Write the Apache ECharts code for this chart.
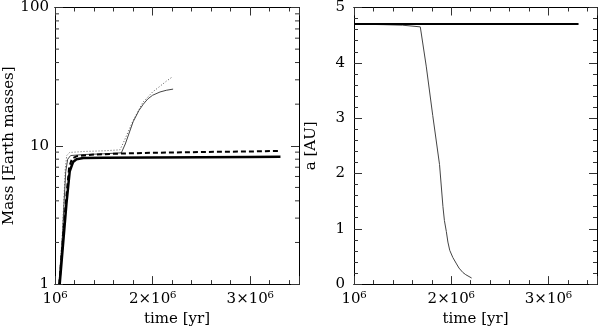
<!DOCTYPE html>
<html>
<head>
<meta charset="utf-8">
<script src="https://cdn.jsdelivr.net/npm/echarts@6/dist/echarts.min.js"></script>
<style>
  html, body { margin: 0; padding: 0; background: #fff; }
  #chart { width: 600px; height: 332px; }
</style>
</head>
<body>
<div id="chart"></div>
<script>
// time in years, mass in Earth masses, a in AU
const tThick = [1.048e6, 1.089e6, 1.117e6, 1.151e6, 1.185e6, 1.22e6, 1.29e6, 1.5e6, 2.0e6, 2.5e6, 3.0e6, 3.31e6]
const mThick = [1, 2.2, 3.8, 6.55, 7.63, 8.0, 8.15, 8.18, 8.22, 8.26, 8.3, 8.32]

const tDashed = [1.045e6, 1.085e6, 1.115e6, 1.145e6, 1.175e6, 1.22e6, 1.4e6, 1.7e6, 2.0e6, 2.5e6, 3.0e6, 3.3e6]
const mDashed = [1, 2.3, 4.2, 7.0, 8.1, 8.4, 8.65, 8.8, 8.9, 9.02, 9.1, 9.18]

const tThin = [1.04e6, 1.076e6, 1.092e6, 1.11e6, 1.13e6, 1.16e6, 1.3e6, 1.5e6, 1.68e6, 1.72e6, 1.8e6, 1.86e6, 1.905e6, 1.95e6, 2.0e6, 2.076e6, 2.14e6, 2.21e6]
const mThin = [1, 2.2, 3.8, 6.5, 8.0, 8.5, 8.65, 8.75, 8.9, 10.3, 14.9, 18, 20, 21.8, 23.2, 24.5, 25.2, 25.7]

const tDotted = [1.04e6, 1.074e6, 1.09e6, 1.105e6, 1.12e6, 1.15e6, 1.3e6, 1.5e6, 1.665e6, 1.7e6, 1.8e6, 1.9e6, 2.0e6, 2.08e6, 2.14e6, 2.2e6]
const mDotted = [1, 2.2, 3.9, 6.8, 8.5, 8.95, 9.1, 9.2, 9.35, 10.5, 15.2, 20.6, 24.5, 27.1, 29.3, 31.4]

const tOrbitFixed = [1.0e6, 2.0e6, 3.31e6]
const aOrbitFixed = [4.7, 4.7, 4.7]

const tOrbitMig = [1.0e6, 1.3e6, 1.5e6, 1.682e6, 1.743e6, 1.81e6, 1.88e6, 1.915e6, 1.93e6, 1.95e6, 1.966e6, 1.985e6, 2.017e6, 2.05e6, 2.08e6, 2.12e6, 2.15e6, 2.21e6]
const aOrbitMig = [4.7, 4.69, 4.68, 4.65, 3.94, 3.05, 2.16, 1.4, 1.15, 0.95, 0.76, 0.61, 0.48, 0.38, 0.29, 0.21, 0.17, 0.11]

const logMinorTicks = [2, 3, 4, 5, 6, 7, 8, 9, 20, 30, 40, 50, 60, 70, 80, 90]

const xMin = 1e6, xMax = 3.5e6
const font = 'DejaVu Serif'
const tickColor = '#333'

const pairs = (xs, ys) => xs.map((x, i) => [x, ys[i]])

function timeLabel(v) {
  if (Math.abs(v / 1e6 - Math.round(v / 1e6)) > 1e-6) return ''
  const k = Math.round(v / 1e6)
  return k === 1 ? '10\u2076' : k + '\u00d710\u2076'
}

// one x axis; several are stacked per grid to get long + short inward ticks
function xAxis(grid, position, interval, len, withLabels) {
  return {
    type: 'value', gridIndex: grid, position: position,
    min: xMin, max: xMax, interval: interval,
    axisLine: { show: true, onZero: false, lineStyle: { color: '#000', width: 1 } },
    axisTick: { show: true, inside: true, length: len, lineStyle: { color: tickColor } },
    axisLabel: withLabels ? { show: true, margin: 8, fontFamily: font, fontSize: 15, color: '#000', formatter: timeLabel } : { show: false },
    splitLine: { show: false },
    name: withLabels ? 'time [yr]' : '',
    nameLocation: 'middle', nameGap: 24,
    nameTextStyle: { fontFamily: font, fontSize: 15, color: '#000' }
  }
}

function linY(grid, position, interval, len, withLabels) {
  return {
    type: 'value', gridIndex: grid, position: position,
    min: 0, max: 5, interval: interval,
    axisLine: { show: true, onZero: false, lineStyle: { color: '#000', width: 1 } },
    axisTick: { show: true, inside: true, length: len, lineStyle: { color: tickColor } },
    axisLabel: withLabels ? { show: true, margin: 9, fontFamily: font, fontSize: 15, color: '#000' } : { show: false },
    splitLine: { show: false },
    name: withLabels ? 'a [AU]' : '',
    nameLocation: 'middle', nameGap: 35,
    nameTextStyle: { fontFamily: font, fontSize: 15, color: '#000' }
  }
}

function logY(position, withLabels) {
  return {
    type: 'log', logBase: 10, gridIndex: 0, position: position,
    min: 1, max: 100,
    axisLine: { show: true, onZero: false, lineStyle: { color: '#000', width: 1 } },
    axisTick: { show: true, inside: true, length: 8, lineStyle: { color: tickColor } },
    axisLabel: withLabels ? { show: true, margin: 6, fontFamily: font, fontSize: 15, color: '#000' } : { show: false },
    splitLine: { show: false },
    name: withLabels ? 'Mass [Earth masses]' : '',
    nameLocation: 'middle', nameGap: 35,
    nameTextStyle: { fontFamily: font, fontSize: 15, color: '#000' }
  }
}

function line(name, data, xi, yi, color, width, type) {
  return {
    name: name, type: 'line', data: data, xAxisIndex: xi, yAxisIndex: yi,
    showSymbol: false, symbol: 'none', smooth: false,
    lineStyle: { color: color, width: width, type: type || 'solid' }
  }
}

const myChart = echarts.init(document.getElementById('chart'), null, { renderer: 'canvas' })
myChart.setOption({
  animation: false,
  backgroundColor: '#fff',
  grid: [
    { left: 55, right: 301, top: 7, bottom: 44 },
    { left: 354, right: 1, top: 7, bottom: 44 }
  ],
  xAxis: [
    xAxis(0, 'bottom', 2e5, 4, false),
    xAxis(0, 'bottom', 1e6, 8, true),
    xAxis(0, 'top', 2e5, 4, false),
    xAxis(0, 'top', 1e6, 8, false),
    xAxis(1, 'bottom', 2e5, 4, false),
    xAxis(1, 'bottom', 1e6, 8, true),
    xAxis(1, 'top', 2e5, 4, false),
    xAxis(1, 'top', 1e6, 8, false)
  ],
  yAxis: [
    logY('left', true),
    logY('right', false),
    linY(1, 'left', 0.2, 4, false),
    linY(1, 'left', 1, 8, true),
    linY(1, 'right', 0.2, 4, false),
    linY(1, 'right', 1, 8, false)
  ],
  series: [
    // short log ticks (2..9, 20..90) on both sides of the mass panel
    {
      type: 'custom', xAxisIndex: 1, yAxisIndex: 0, silent: true,
      data: logMinorTicks.map(v => [xMin, v]),
      encode: { x: 0, y: 1 },
      renderItem: function (params, api) {
        const v = api.value(1)
        const pL = api.coord([xMin, v])
        const pR = api.coord([xMax, v])
        const st = { stroke: tickColor, lineWidth: 1 }
        return {
          type: 'group',
          children: [
            { type: 'line', shape: { x1: pL[0], y1: pL[1], x2: pL[0] + 4, y2: pL[1] }, style: st },
            { type: 'line', shape: { x1: pR[0] - 4, y1: pR[1], x2: pR[0], y2: pR[1] }, style: st }
          ]
        }
      }
    },
    line('dotted', pairs(tDotted, mDotted), 1, 0, '#555', 1, [1, 2]),
    line('thin', pairs(tThin, mThin), 1, 0, '#444', 1),
    line('dashed', pairs(tDashed, mDashed), 1, 0, '#000', 2, [5, 3]),
    line('thick', pairs(tThick, mThick), 1, 0, '#000', 2.5),
    line('a migrating', pairs(tOrbitMig, aOrbitMig), 5, 3, '#444', 1),
    line('a fixed', pairs(tOrbitFixed, aOrbitFixed), 5, 3, '#000', 2)
  ]
})
</script>
</body>
</html>
